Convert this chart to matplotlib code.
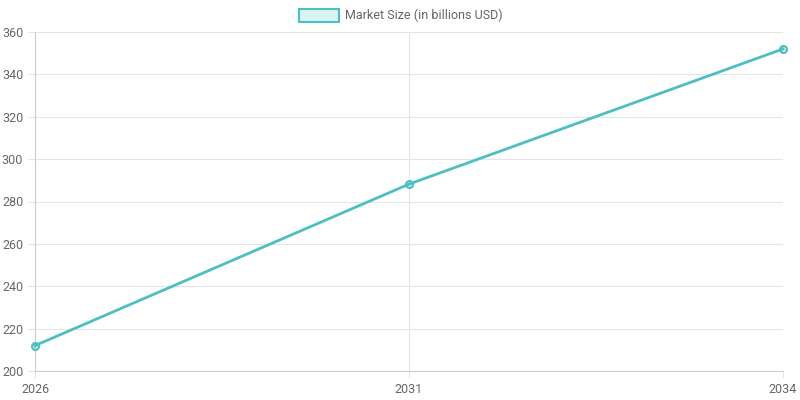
import matplotlib.pyplot as plt
from matplotlib.patches import Rectangle

years = ['2026', '2031', '2034']
market_size = [212, 288.2, 352]
y_ticks = list(range(200, 361, 20))

line_color = '#4bc0c0'
fill_color = (75/255, 192/255, 192/255, 0.2)

plt.rcParams['font.family'] = ['Roboto', 'DejaVu Sans']

fig = plt.figure(figsize=(8, 4), dpi=100)
ax = fig.add_axes([35/800, 1 - 371/400, (783 - 35)/800, (371 - 32)/400])

x = range(len(years))
ax.plot(x, market_size, color=line_color, linewidth=2, marker='o', markersize=5,
        markerfacecolor=fill_color, markeredgecolor=line_color, markeredgewidth=1.5,
        clip_on=False, zorder=3)

ax.set_xlim(0, len(years) - 1)
ax.set_ylim(200, 360)
ax.set_xticks(list(x))
ax.set_xticklabels(years)
ax.set_yticks(y_ticks)
ax.grid(True, color='#e5e5e5', linewidth=0.8)
for s in ['top', 'right']:
    ax.spines[s].set_visible(False)
for s in ['left', 'bottom']:
    ax.spines[s].set_color('#cccccc')
ax.tick_params(colors='#666666', labelsize=9, length=5, color='#e5e5e5')

# legend in chart.js style
fig.patches.append(Rectangle((299/800, 1 - 22/400), 40/800, 13/400, transform=fig.transFigure,
                             facecolor=fill_color, edgecolor=line_color, linewidth=1.5))
fig.text(345/800, 1 - 15.5/400, 'Market Size (in billions USD)', color='#666666',
         fontsize=9, va='center', ha='left')

fig.savefig('out.png', dpi=100)
